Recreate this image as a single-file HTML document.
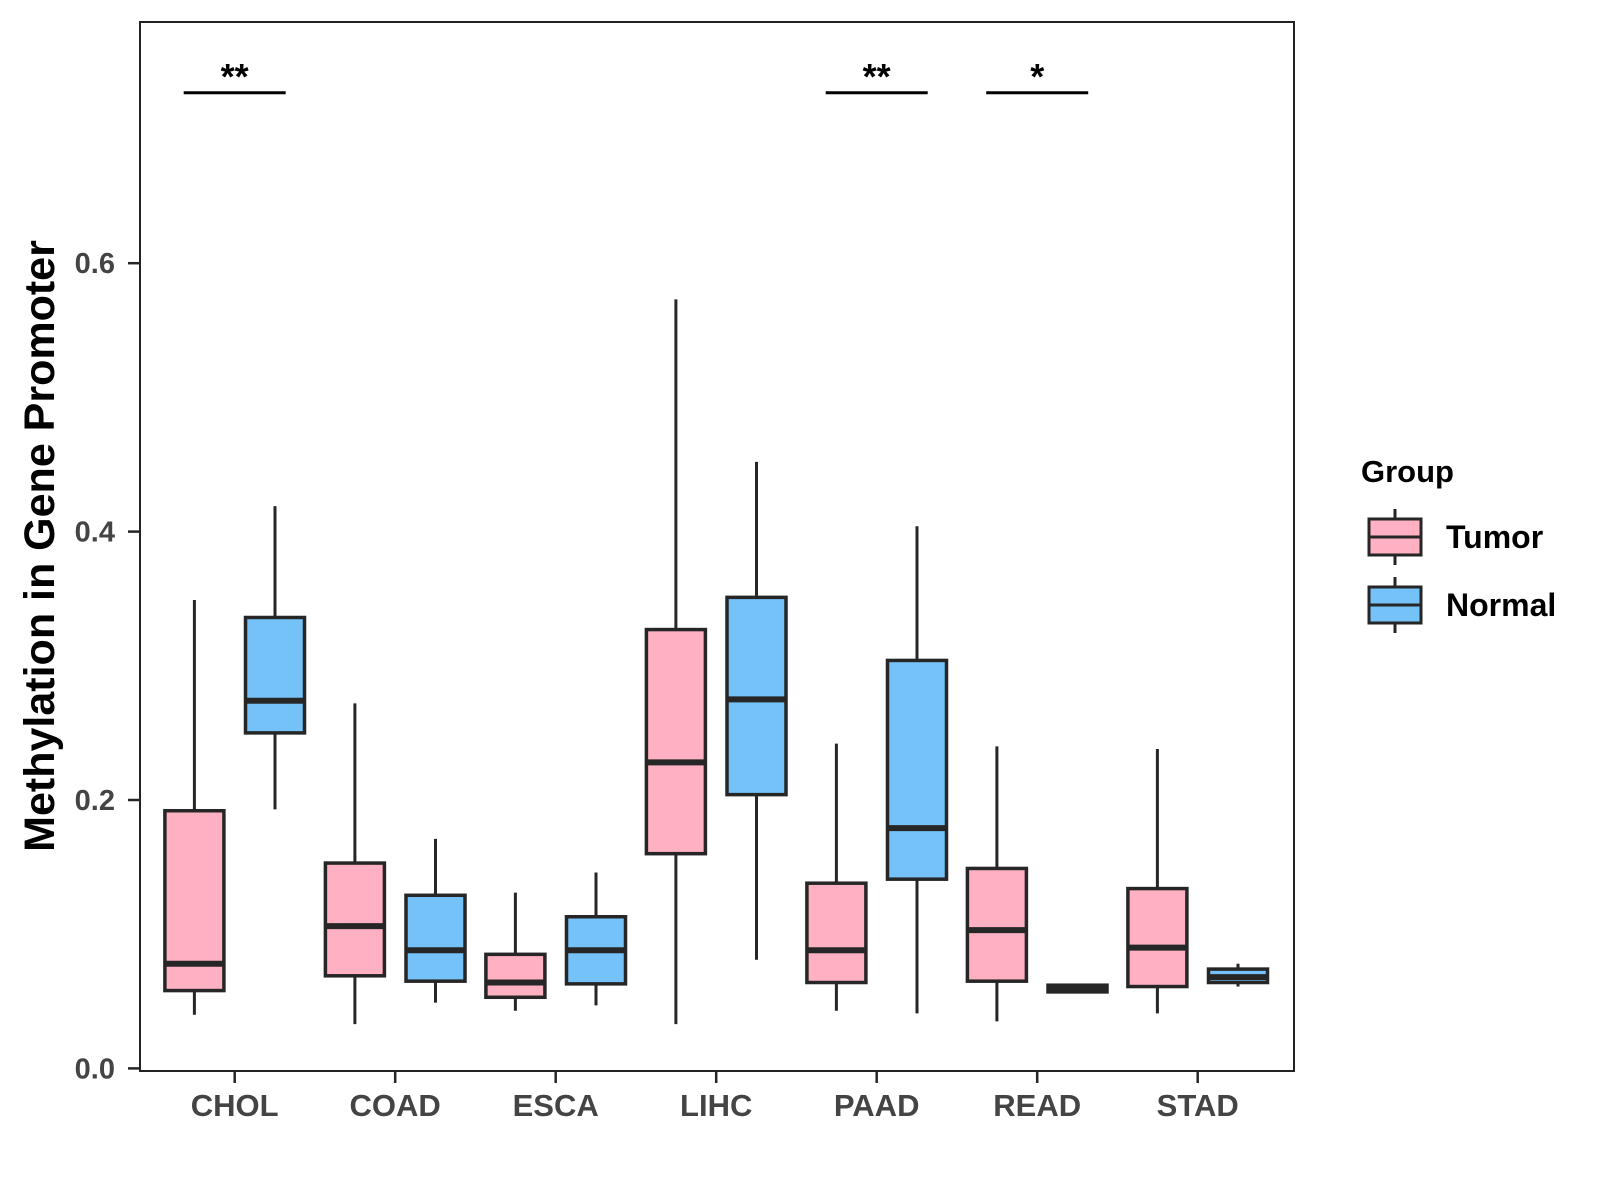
<!DOCTYPE html>
<html><head><meta charset="utf-8"><style>
body{margin:0;background:#fff}
svg{display:block}
text{font-family:"Liberation Sans",sans-serif;font-weight:bold}
</style></head><body>
<svg id="chart" width="1600" height="1200"></svg>
<script>
const categories=["CHOL","COAD","ESCA","LIHC","PAAD","READ","STAD"];
const groups=["Tumor","Normal"];
// [low, q1, median, q3, high]
const tumorStats=[[0.040,0.058,0.078,0.192,0.349],[0.033,0.069,0.106,0.153,0.272],[0.043,0.053,0.064,0.085,0.131],[0.033,0.160,0.228,0.327,0.573],[0.043,0.064,0.088,0.138,0.242],[0.035,0.065,0.103,0.149,0.240],[0.041,0.061,0.090,0.134,0.238]];
const normalStats=[[0.193,0.250,0.274,0.336,0.419],[0.049,0.065,0.088,0.129,0.171],[0.047,0.063,0.088,0.113,0.146],[0.081,0.204,0.275,0.351,0.452],[0.041,0.141,0.179,0.304,0.404],[0.056,0.057,0.059,0.062,0.063],[0.061,0.064,0.068,0.074,0.078]];
const yTicks=[0.0,0.2,0.4,0.6];
const sigCats=["CHOL","PAAD","READ"];
const sigLabels=["**","**","*"];
const sigLevel=0.727;

const NS="http://www.w3.org/2000/svg";
const svg=document.getElementById('chart');
const L=140,R=1294,T=22,B=1071;
const y0=1068.4,yPer=1342;
function y(v){return y0-v*yPer;}
function x(i){return 234.7+i*160.5;}
const off=40.3,bw=59,ink="#262626";
function el(tag,attrs,parent){const e=document.createElementNS(NS,tag);for(const k in attrs)e.setAttribute(k,attrs[k]);(parent||svg).appendChild(e);return e;}

const panel=el('rect',{x:L,y:T,width:R-L,height:B-T,fill:'#fff',stroke:'#222','stroke-width':2});



yTicks.forEach(v=>{
  const t=el('line',{x1:128,x2:L,y1:y(v),y2:y(v),stroke:ink,'stroke-width':2.5});
  
  
  const lb=el('text',{x:115,y:y(v)+10,'text-anchor':'end','font-size':29,fill:'#444'});
  lb.textContent=v.toFixed(1);
  
  
});
categories.forEach((c,i)=>{
  const t=el('line',{x1:x(i),x2:x(i),y1:B,y2:B+12,stroke:ink,'stroke-width':2.5});
  
  
  const lb=el('text',{x:x(i),y:1116,'text-anchor':'middle','font-size':31,fill:'#444'});
  lb.textContent=c;
  
  
});
function drawBox(s,cx,fill,name){
  const g=el('g',{});
  
  
  el('line',{x1:cx,x2:cx,y1:y(s[0]),y2:y(s[4]),stroke:ink,'stroke-width':3},g);
  el('rect',{x:cx-bw/2,y:y(s[3]),width:bw,height:Math.max(y(s[1])-y(s[3]),1),fill:fill,stroke:ink,'stroke-width':3.5},g);
  el('line',{x1:cx-bw/2,x2:cx+bw/2,y1:y(s[2]),y2:y(s[2]),stroke:ink,'stroke-width':6},g);
}
categories.forEach((c,i)=>{
  drawBox(tumorStats[i],x(i)-off,'#FFB0C2','box-tumor-'+c.toLowerCase());
  drawBox(normalStats[i],x(i)+off,'#74C2F8','box-normal-'+c.toLowerCase());
});
sigCats.forEach((c,k)=>{
  const i=categories.indexOf(c);
  const ln=el('line',{x1:x(i)-51,x2:x(i)+51,y1:y(sigLevel),y2:y(sigLevel),stroke:'#000','stroke-width':3});
  
  
  const st=el('text',{x:x(i),y:y(sigLevel)-4,'text-anchor':'middle','font-size':36,fill:'#000'});
  st.textContent=sigLabels[k];
  
  
});
const yt=el('text',{x:0,y:0,'text-anchor':'middle','font-size':43,fill:'#000',transform:'translate(54,546) rotate(-90)'});
yt.textContent='Methylation in Gene Promoter';


const lt=el('text',{x:1361,y:482,'font-size':31,fill:'#000'});
lt.textContent='Group';


const legFills=['#FFB0C2','#74C2F8'];
groups.forEach((gname,k)=>{
  const cy=537+k*68;
  const g=el('g',{});
  
  
  el('line',{x1:1395,x2:1395,y1:cy-28,y2:cy+28,stroke:ink,'stroke-width':3},g);
  el('rect',{x:1369,y:cy-18,width:52,height:36,fill:legFills[k],stroke:ink,'stroke-width':3},g);
  el('line',{x1:1369,x2:1421,y1:cy,y2:cy,stroke:ink,'stroke-width':3},g);
  const tx=el('text',{x:1446,y:cy+11,'font-size':32,fill:'#000'},g);
  tx.textContent=gname;
});
</script>
</body></html>
